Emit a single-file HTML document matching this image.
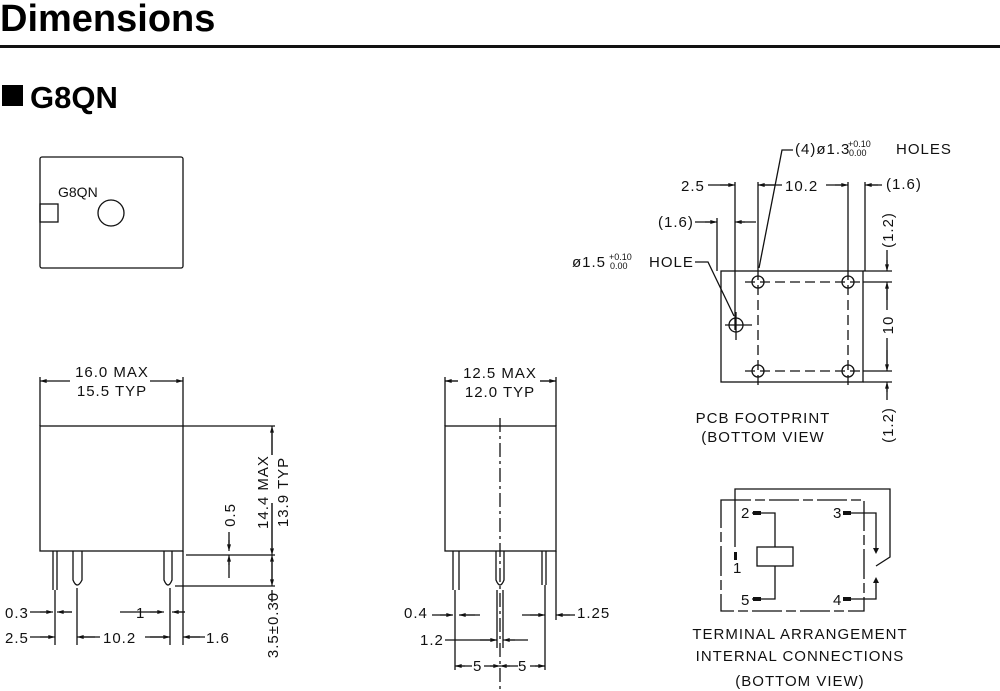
<!DOCTYPE html>
<html><head><meta charset="utf-8"><style>
html,body{margin:0;padding:0;background:#fff;width:1000px;height:691px;overflow:hidden}
svg{display:block}
text{font-family:"Liberation Sans",sans-serif;fill:#111}
.t{font-size:15px;letter-spacing:1px}
.s{font-size:9px}
</style></head><body>
<svg width="1000" height="691" viewBox="0 0 1000 691" xmlns="http://www.w3.org/2000/svg">
<defs>
<marker id="a" viewBox="0 0 10 6" refX="10" refY="3" markerWidth="8" markerHeight="4" orient="auto-start-reverse" markerUnits="userSpaceOnUse"><path d="M0,0L10,3L0,6z" fill="#111"/></marker>
</defs>
<text x="0" y="31" font-size="38" font-weight="bold" style="fill:#000">Dimensions</text>
<rect x="0" y="45" width="1000" height="3" fill="#111"/>
<rect x="2" y="85" width="21" height="21" fill="#000"/>
<text x="30" y="108" font-size="31" font-weight="bold" style="fill:#000">G8QN</text>

<g fill="none" stroke="#111" stroke-width="1.3">
<rect x="40" y="157" width="143" height="111" rx="2"/>
<rect x="40" y="204" width="18" height="18"/>
<circle cx="111" cy="213" r="13"/>

<rect x="40" y="426" width="143" height="125"/>
<path d="M40 377V426M183 377V426"/>
<path d="M53 551V590M57 551V590M55 590V645"/>
<path d="M73 551V580Q77 590 82 580V551M77 588V645"/>
<path d="M164 551V580Q168 590 172 580V551M170 588V645M183 551V645"/>
<path d="M183 426H275M186 555H275M175 586H275"/>
<path d="M272 430V455M272 503V548M272 562V582M272 590V602" />
<path d="M229 532V548M229 560V578"/>
<path d="M30 612H51M59 612H72M120 612H162M174 612H185M30 637H53M80 637H100M145 637H168M186 637H205"/>
<rect x="445" y="426" width="111" height="125"/>
<path d="M445 377V426M556 377V426M445 381H458M540 381H556"/>
<path d="M453 551V590M459 551V590M496 551V580Q500 590 504 580V551M542 551V585M546 551V585"/>
<path d="M455 590V670M545 585V670M497 590V648M503 590V648M556 551V620"/>
<path d="M500 418V690" stroke-dasharray="14 4 3 4"/>
<path d="M432 615H452M460 615H480M522 615H543M558 615H575M445 640H495M506 640H528M456 666H472M484 666H498M502 666H518M530 666H545"/>
<rect x="721" y="271" width="142" height="111"/>
<circle cx="758" cy="282" r="6"/><circle cx="848" cy="282" r="6"/><circle cx="758" cy="371" r="6"/><circle cx="848" cy="371" r="6"/><circle cx="736" cy="325" r="7"/>
<path d="M745 282H863M745 371H863M758 270V385M848 270V385" stroke-dasharray="10 5"/>
<path d="M725 325H752M736 312V340"/>
<path d="M735 182V330M758 182V270M848 182V270M865 182V271M717 218V271"/>
<path d="M708 185H733M760 185H782M826 185H846M867 185H882M695 222H715M737 222H756"/>
<path d="M863 271H892M863 282H892M863 371H892M863 382H892"/>
<path d="M887 250V269M887 284V310M887 338V369M887 384V400"/>
<path d="M793 150H782L759 268M695 262H708L734 316"/>
<path d="M721 500H864V611H721Z" stroke-dasharray="30 4 10 4"/>
<path d="M735 547V489H890V557L876 566M876 580V599H847M851 513H876V550M752 513H775V547M752 599H775V566"/>
<rect x="757" y="547" width="36" height="19"/>
</g>
<g fill="#111">
<rect x="734" y="552" width="3" height="8"/><rect x="753" y="511" width="8" height="4"/><rect x="843" y="511" width="8" height="4"/><rect x="753" y="597" width="8" height="4"/><rect x="843" y="597" width="8" height="4"/>
<path d="M873 548L876 554L879 548z M873 583L876 577L879 583z"/>
</g>
<g fill="none" stroke="#111" stroke-width="1.2" marker-end="url(#a)">
<path d="M70 381H40"/><path d="M150 381H183"/>
<path d="M458 381H445"/><path d="M540 381H556"/>
<path d="M272 455V426"/><path d="M272 503V555"/><path d="M272 575V555"/><path d="M272 575V586"/>
<path d="M229 540V551"/><path d="M229 565V555"/>
<path d="M40 612H53"/><path d="M72 612H57"/><path d="M150 612H164"/><path d="M185 612H172"/>
<path d="M40 637H55"/><path d="M95 637H77"/><path d="M150 637H170"/><path d="M200 637H183"/>
<path d="M440 615H453"/><path d="M475 615H459"/><path d="M530 615H545"/><path d="M570 615H556"/>
<path d="M480 640H497"/><path d="M515 640H503"/>
<path d="M465 666H455"/><path d="M490 666H500"/><path d="M510 666H500"/><path d="M535 666H545"/>
<path d="M720 185H735"/><path d="M775 185H758"/><path d="M835 185H848"/><path d="M878 185H865"/>
<path d="M705 222H717"/><path d="M745 222H735"/>
<path d="M887 260V271"/><path d="M887 300V282"/><path d="M887 350V371"/><path d="M887 392V382"/>
</g>
<text class="t" x="112" y="377" text-anchor="middle">16.0 MAX</text>
<text class="t" x="112" y="396" text-anchor="middle">15.5 TYP</text>
<text class="t" x="500" y="378" text-anchor="middle">12.5 MAX</text>
<text class="t" x="500" y="397" text-anchor="middle">12.0 TYP</text>
<text class="t" transform="translate(268,492) rotate(-90)" text-anchor="middle">14.4 MAX</text>
<text class="t" transform="translate(288,492) rotate(-90)" text-anchor="middle">13.9 TYP</text>
<text class="t" transform="translate(235,515) rotate(-90)" text-anchor="middle">0.5</text>
<text class="t" transform="translate(278,625) rotate(-90)" text-anchor="middle">3.5±0.30</text>
<text class="t" x="5" y="618">0.3</text>
<text class="t" x="136" y="618">1</text>
<text class="t" x="5" y="643">2.5</text>
<text class="t" x="103" y="643">10.2</text>
<text class="t" x="206" y="643">1.6</text>
<text class="t" x="404" y="618">0.4</text>
<text class="t" x="577" y="618">1.25</text>
<text class="t" x="420" y="645">1.2</text>
<text class="t" x="473" y="671">5</text>
<text class="t" x="518" y="671">5</text>
<text class="t" x="795" y="154">(4)ø1.3</text>
<text class="s" x="848" y="147">+0.10</text><text class="s" x="849" y="156">0.00</text>
<text class="t" x="896" y="154">HOLES</text>
<text class="t" x="681" y="191">2.5</text>
<text class="t" x="785" y="191">10.2</text>
<text class="t" x="886" y="189">(1.6)</text>
<text class="t" x="658" y="227">(1.6)</text>
<text class="t" x="572" y="267">ø1.5</text>
<text class="s" x="609" y="260">+0.10</text><text class="s" x="610" y="269">0.00</text>
<text class="t" x="649" y="267">HOLE</text>
<text class="t" transform="translate(893,230) rotate(-90)" text-anchor="middle">(1.2)</text>
<text class="t" transform="translate(893,325) rotate(-90)" text-anchor="middle">10</text>
<text class="t" transform="translate(893,425) rotate(-90)" text-anchor="middle">(1.2)</text>
<text class="t" x="763" y="423" text-anchor="middle" font-size="17">PCB FOOTPRINT</text>
<text class="t" x="763" y="442" text-anchor="middle" font-size="14">(BOTTOM VIEW</text>
<text class="t" x="741" y="518" font-size="13">2</text>
<text class="t" x="833" y="518" font-size="13">3</text>
<text class="t" x="733" y="573" font-size="12">1</text>
<text class="t" x="741" y="605" font-size="13">5</text>
<text class="t" x="833" y="605" font-size="13">4</text>
<text class="t" x="800" y="639" text-anchor="middle" font-size="17">TERMINAL ARRANGEMENT</text>
<text class="t" x="800" y="661" text-anchor="middle" font-size="14">INTERNAL CONNECTIONS</text>
<text class="t" x="800" y="686" text-anchor="middle" font-size="14">(BOTTOM VIEW)</text>
<text x="58" y="197" font-size="14">G8QN</text>
</svg>
</body></html>
